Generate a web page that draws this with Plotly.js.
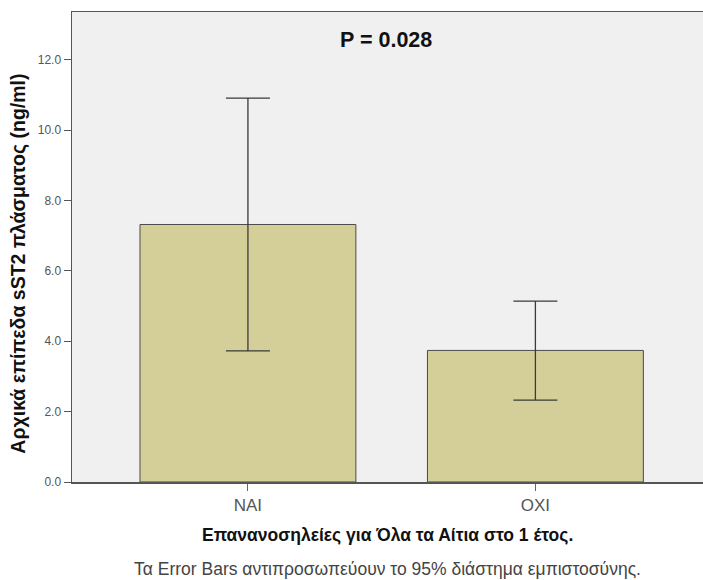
<!DOCTYPE html>
<html>
<head>
<meta charset="utf-8">
<script src="https://cdn.plot.ly/plotly-3.0.1.min.js"></script>
<style>
html,body{margin:0;padding:0;background:#fff;}
#chart{width:703px;height:580px;}
</style>
</head>
<body>
<div id="chart"></div>
<script>
const categories = ["NAI", "OXI"];
const means = [7.32, 3.74];
const ciHigh = [10.91, 5.14];
const ciLow = [3.73, 2.33];
const yTickVals = [0, 2, 4, 6, 8, 10, 12];
const yTickText = ["0.0", "2.0", "4.0", "6.0", "8.0", "10.0", "12.0"];
const pText = "P = 0.028";
const xTitle = "Επανανοσηλείες για Όλα τα Αίτια στο 1 έτος.";
const yTitle = "Αρχικά επίπεδα sST2 πλάσματος (ng/ml)";
const footnote = "Τα Error Bars αντιπροσωπεύουν το 95% διάστημα εμπιστοσύνης.";

const font = "Liberation Sans, Arial, sans-serif";

const trace = {
  type: "bar",
  x: categories,
  y: means,
  marker: {color: "#d4cf98", line: {color: "#4a4a4a", width: 1}},
  error_y: {
    type: "data",
    symmetric: false,
    array: ciHigh.map((h, i) => h - means[i]),
    arrayminus: ciLow.map((l, i) => means[i] - l),
    color: "#3a3a3a",
    thickness: 1.3,
    width: 22
  },
  hoverinfo: "none"
};

const layout = {
  width: 703,
  height: 580,
  margin: {l: 72, r: 0, t: 12, b: 98},
  paper_bgcolor: "#ffffff",
  plot_bgcolor: "#f0f0f0",
  showlegend: false,
  bargap: 0.249,
  font: {family: font, color: "#444"},
  xaxis: {
    type: "category",
    range: [-0.612, 1.583],
    showline: true,
    linecolor: "#555",
    linewidth: 1.5,
    mirror: true,
    ticks: "outside",
    ticklen: 7,
    tickcolor: "#666",
    tickwidth: 1,
    tickfont: {family: font, size: 17, color: "#555"},
    showgrid: false,
    zeroline: false,
    fixedrange: true
  },
  yaxis: {
    range: [0, 13.36],
    tickvals: yTickVals,
    ticktext: yTickText,
    showline: true,
    linecolor: "#555",
    linewidth: 1.5,
    ticks: "outside",
    ticklen: 7,
    tickcolor: "#555",
    tickwidth: 1,
    tickfont: {family: font, size: 12, color: "#555"},
    showgrid: false,
    zeroline: false,
    fixedrange: true
  },
  annotations: [
    {text: "<b>" + pText + "</b>", xref: "paper", yref: "paper", x: 0.497, y: 0.940,
     showarrow: false, font: {family: font, size: 21.5, color: "#111"}, xanchor: "center", yanchor: "middle"},
    {text: "<b>" + xTitle + "</b>", xref: "paper", yref: "paper", x: 0.5, y: -0.112,
     showarrow: false, font: {family: font, size: 17.5, color: "#111"}, xanchor: "center", yanchor: "middle"},
    {text: "<b>" + yTitle + "</b>", xref: "paper", yref: "paper", x: -0.086, y: 0.464,
     textangle: -90, showarrow: false, font: {family: font, size: 19.5, color: "#111"}, xanchor: "center", yanchor: "middle"},
    {text: footnote, xref: "paper", yref: "paper", x: 0.5, y: -0.186,
     showarrow: false, font: {family: font, size: 17.5, color: "#444"}, xanchor: "center", yanchor: "middle"}
  ]
};

Plotly.newPlot("chart", [trace], layout, {displayModeBar: false, staticPlot: true});
</script>
</body>
</html>
